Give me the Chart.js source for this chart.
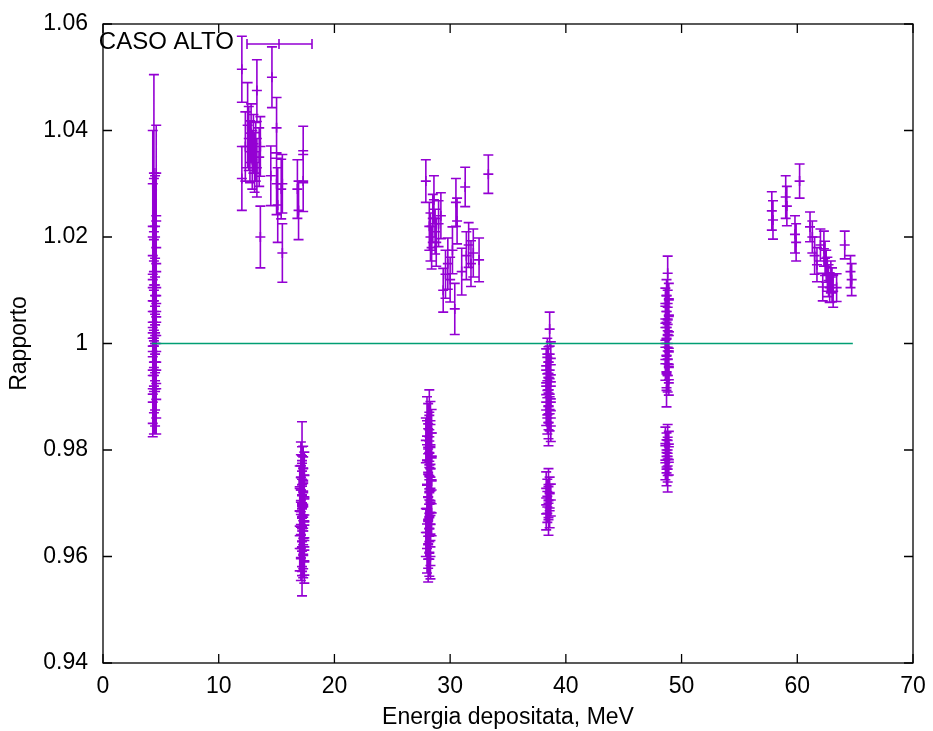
<!DOCTYPE html>
<html>
<head>
<meta charset="utf-8">
<script src="https://cdn.jsdelivr.net/npm/chart.js@4.4.1/dist/chart.umd.min.js"></script>
<style>
  html, body { margin: 0; background: #fff; }
</style>
</head>
<body>
<canvas id="chart" width="933" height="731"></canvas>
<script>
// energy deposited (MeV), ratio and its error, one group per cluster
const aX = [4.4,4.6,4.3,4.5,4.4,4.6,4.3,4.5,4.4,4.6,4.3,4.5,4.4,4.6,4.3,4.5,4.4,4.6,4.3,4.5,4.4,4.6,4.3,4.5,4.4,4.6,4.3,4.5,4.4,4.6,4.3,4.5];
const aY = [1.0320,1.0320,1.0300,1.0220,1.0210,1.0150,1.0120,1.0110,1.0100,1.0090,1.0080,1.0070,1.0060,1.0050,1.0040,1.0035,1.0025,1.0015,1.0010,1.0000,0.9995,0.9985,0.9975,0.9965,0.9955,0.9950,0.9940,0.9930,0.9920,0.9915,0.9905,0.9915];
const aE = [.0185,.0090,.0100,.0095,.0100,.0090,.0100,.0090,.0095,.0090,.0085,.0090,.0095,.0085,.0090,.0090,.0085,.0090,.0095,.0090,.0085,.0090,.0085,.0090,.0085,.0090,.0090,.0085,.0090,.0085,.0080,.0085];

const bX = [12.0,12.0,12.3,12.5,12.6,12.7,12.8,12.9,13.0,13.1,13.2,13.3,13.3,13.5,13.6,13.6,14.5,14.6,15.0,15.0,15.1,15.5,15.4,15.5,16.8,16.9,17.3,17.3];
const bY = [1.0515,1.0310,1.0370,1.0410,1.0385,1.0360,1.0395,1.0345,1.0375,1.0340,1.0360,1.0475,1.0330,1.0350,1.0370,1.0200,1.0315,1.0500,1.0405,1.0300,1.0260,1.0300,1.0290,1.0170,1.0290,1.0250,1.0355,1.0305];
const bE = [.0062,.0060,.0065,.0080,.0060,.0058,.0055,.0055,.0055,.0056,.0055,.0058,.0055,.0055,.0056,.0058,.0056,.0057,.0057,.0058,.0070,.0055,.0056,.0055,.0055,.0055,.0053,.0057];

const cX = [17.2,17.1,17.3,17.2,17.4,17.1,17.3,17.2,17.0,17.3,17.2,17.4,17.1,17.3,17.2,17.0,17.3,17.2,17.4,17.1,17.2,17.3,17.1,17.4,17.2,17.3,17.0,17.2,17.3,17.1,17.4,17.2,17.3,17.1,17.2,17.2,17.4];
const cY = [0.9775,0.9770,0.9765,0.9760,0.9752,0.9748,0.9740,0.9735,0.9728,0.9720,0.9716,0.9710,0.9702,0.9698,0.9690,0.9685,0.9678,0.9672,0.9665,0.9660,0.9652,0.9648,0.9640,0.9635,0.9628,0.9622,0.9615,0.9610,0.9604,0.9598,0.9612,0.9655,0.9695,0.9725,0.9745,0.9572,0.9590];
const cE = [.0078,.0045,.0042,.0046,.0044,.0043,.0047,.0045,.0042,.0046,.0044,.0043,.0047,.0045,.0042,.0046,.0044,.0043,.0047,.0045,.0042,.0046,.0044,.0043,.0047,.0045,.0042,.0046,.0044,.0043,.0047,.0045,.0042,.0046,.0044,.0046,.0040];

const dX = [28.2,28.0,28.3,28.1,28.4,28.2,27.9,28.3,28.1,28.2,28.4,28.0,28.2,28.3,28.1,28.2,28.4,28.0,28.3,28.2,28.1,28.3,28.2,28.0,28.4,28.2,28.1,28.3,28.2,27.9,28.2,28.3,28.1,28.0,28.2,28.3,28.1];
const dY = [0.9865,0.9855,0.9848,0.9840,0.9832,0.9825,0.9818,0.9810,0.9802,0.9795,0.9788,0.9780,0.9772,0.9765,0.9758,0.9750,0.9742,0.9735,0.9728,0.9720,0.9712,0.9705,0.9698,0.9690,0.9682,0.9675,0.9668,0.9660,0.9652,0.9645,0.9638,0.9630,0.9622,0.9615,0.9608,0.9600,0.9595];
const dE = [.0048,.0045,.0043,.0047,.0044,.0046,.0042,.0045,.0047,.0043,.0044,.0046,.0045,.0042,.0047,.0044,.0043,.0046,.0045,.0047,.0042,.0044,.0046,.0045,.0043,.0047,.0044,.0042,.0046,.0045,.0043,.0047,.0044,.0046,.0045,.0042,.0043];

const eX = [27.9,28.2,28.3,28.4,28.5,28.6,28.7,28.8,29.0,29.2,29.4,29.6,29.8,30.0,30.2,30.4,30.5,30.6,31.0,31.3,31.4,31.6,31.8,32.0,32.5,33.3];
const eY = [1.0305,1.0220,1.0200,1.0180,1.0235,1.0270,1.0210,1.0190,1.0225,1.0240,1.0100,1.0130,1.0150,1.0120,1.0175,1.0065,1.0265,1.0230,1.0135,1.0294,1.0165,1.0185,1.0150,1.0170,1.0157,1.0318];
const eE = [.0040,.0045,.0045,.0040,.0045,.0045,.0042,.0045,.0043,.0043,.0041,.0045,.0048,.0042,.0044,.0048,.0045,.0043,.0044,.0037,.0045,.0042,.0043,.0045,.0041,.0036];

const fX = [38.6,38.4,38.7,38.5,38.3,38.6,38.4,38.5,38.7,38.3,38.5,38.6,38.4,38.7,38.5,38.3,38.6,38.4,38.5,38.7,38.5,38.5,38.3,38.6,38.4,38.7,38.5,38.4,38.6,38.3,38.5];
const fY = [1.0027,0.9980,0.9972,0.9965,0.9958,0.9950,0.9943,0.9936,0.9928,0.9920,0.9913,0.9905,0.9898,0.9890,0.9882,0.9875,0.9868,0.9860,0.9852,0.9845,0.9838,0.9735,0.9728,0.9720,0.9713,0.9706,0.9700,0.9693,0.9686,0.9680,0.9673];
const fE = [.0032,.0030,.0031,.0029,.0032,.0030,.0031,.0029,.0032,.0030,.0031,.0029,.0032,.0030,.0031,.0029,.0032,.0030,.0031,.0029,.0030,.0030,.0031,.0029,.0032,.0030,.0031,.0029,.0032,.0030,.0033];

const gX = [48.8,48.7,48.9,48.6,48.8,48.7,48.9,48.8,48.6,48.7,48.9,48.8,48.7,48.6,48.8,48.9,48.7,48.8,48.6,48.9,48.7,48.8,48.9,48.7,48.8,48.6,48.9,48.7,48.8,48.7,48.9,48.6,48.8,48.7,48.8];
const gY = [1.0132,1.0090,1.0082,1.0075,1.0068,1.0060,1.0053,1.0046,1.0038,1.0030,1.0022,1.0015,1.0008,1.0000,0.9993,0.9986,0.9978,0.9970,0.9962,0.9955,0.9947,0.9940,0.9932,0.9912,0.9818,0.9812,0.9806,0.9800,0.9794,0.9788,0.9782,0.9776,0.9770,0.9764,0.9752];
const gE = [.0032,.0030,.0031,.0029,.0032,.0030,.0031,.0029,.0032,.0030,.0031,.0029,.0032,.0030,.0031,.0029,.0032,.0030,.0031,.0029,.0030,.0031,.0029,.0031,.0030,.0031,.0029,.0032,.0030,.0031,.0029,.0032,.0030,.0031,.0031];

const hX = [57.8,57.9,59.0,59.1,60.2,59.8,59.9,61.1,61.5,61.7,62.0,62.3,62.4,62.5,62.6,62.7,62.8,62.9,63.0,63.1,62.2,63.4,64.1,64.6,64.7,61.3];
const hY = [1.0249,1.0232,1.0275,1.0258,1.0305,1.0205,1.0190,1.0219,1.0165,1.0148,1.0185,1.0178,1.0160,1.0145,1.0130,1.0118,1.0105,1.0125,1.0110,1.0098,1.0106,1.0105,1.0185,1.0135,1.0120,1.0200];
const hE = [.0036,.0036,.0040,.0037,.0032,.0035,.0035,.0028,.0035,.0032,.0030,.0033,.0032,.0030,.0032,.0030,.0028,.0030,.0032,.0030,.0026,.0026,.0026,.0030,.0030,.0030];

// reference line at ratio = 1
const fitX = [4.2, 64.8];
const fitY = [1, 1];

const xTicks = [0, 10, 20, 30, 40, 50, 60, 70];
const yTicks = [0.94, 0.96, 0.98, 1.0, 1.02, 1.04, 1.06];
const yTickLabels = ["0.94", "0.96", "0.98", "1", "1.02", "1.04", "1.06"];

const seriesLabel = "CASO ALTO";
const purple = "#9400d3";
const green = "#009e73";
const fontFamily = "'Liberation Sans', Arial, sans-serif";

const groups = [[aX, aY, aE], [bX, bY, bE], [cX, cY, cE], [dX, dY, dE], [eX, eY, eE], [fX, fY, fE], [gX, gY, gE], [hX, hY, hE]];
const points = [];
groups.forEach(([xs, ys, es]) => {
  xs.forEach((x, i) => points.push({ x: x, y: ys[i], err: es[i] }));
});

const errorBars = {
  id: "errorBars",
  beforeDatasetsDraw(chart) {
    const { ctx, chartArea, scales } = chart;
    ctx.save();
    ctx.beginPath();
    ctx.rect(chartArea.left, chartArea.top, chartArea.right - chartArea.left, chartArea.bottom - chartArea.top);
    ctx.clip();
    ctx.strokeStyle = purple;
    ctx.lineWidth = 1.6;
    ctx.beginPath();
    points.forEach((p) => {
      const px = scales.x.getPixelForValue(p.x);
      const top = scales.y.getPixelForValue(p.y + p.err);
      const bot = scales.y.getPixelForValue(p.y - p.err);
      ctx.moveTo(px, top);
      ctx.lineTo(px, bot);
      ctx.moveTo(px - 5, top);
      ctx.lineTo(px + 5, top);
      ctx.moveTo(px - 5, bot);
      ctx.lineTo(px + 5, bot);
    });
    ctx.stroke();
    ctx.restore();
  },
};

// gnuplot-style frame: box with inward ticks on all four sides, plus key
const frame = {
  id: "frame",
  afterDraw(chart) {
    const { ctx, chartArea: a, scales } = chart;
    ctx.save();
    ctx.strokeStyle = "#000";
    ctx.lineWidth = 1.3;
    ctx.strokeRect(a.left, a.top, a.right - a.left, a.bottom - a.top);
    ctx.beginPath();
    const tl = 9;
    xTicks.forEach((v) => {
      const px = scales.x.getPixelForValue(v);
      ctx.moveTo(px, a.bottom);
      ctx.lineTo(px, a.bottom - tl);
      ctx.moveTo(px, a.top);
      ctx.lineTo(px, a.top + tl);
    });
    yTicks.forEach((v) => {
      const py = scales.y.getPixelForValue(v);
      ctx.moveTo(a.left, py);
      ctx.lineTo(a.left + tl, py);
      ctx.moveTo(a.right, py);
      ctx.lineTo(a.right - tl, py);
    });
    ctx.stroke();

    // key
    ctx.fillStyle = "#000";
    ctx.font = "24px " + fontFamily;
    ctx.textAlign = "right";
    ctx.textBaseline = "middle";
    ctx.fillText(seriesLabel, 234, 42);
    ctx.strokeStyle = purple;
    ctx.lineWidth = 1.6;
    ctx.beginPath();
    ctx.moveTo(247, 44);
    ctx.lineTo(312, 44);
    [247, 279, 312].forEach((kx) => {
      ctx.moveTo(kx, 39);
      ctx.lineTo(kx, 49);
    });
    ctx.stroke();
    ctx.restore();
  },
};

new Chart(document.getElementById("chart"), {
  type: "scatter",
  data: {
    datasets: [
      {
        type: "line",
        data: fitX.map((x, i) => ({ x: x, y: fitY[i] })),
        borderColor: green,
        borderWidth: 1.5,
        pointRadius: 0,
        fill: false,
      },
      {
        data: points,
        pointStyle: "cross",
        radius: 5,
        borderColor: purple,
        backgroundColor: purple,
        borderWidth: 1.6,
      },
    ],
  },
  options: {
    responsive: false,
    devicePixelRatio: 1,
    animation: false,
    layout: { padding: { left: 0, right: 20, top: 24, bottom: 0 } },
    scales: {
      x: {
        type: "linear",
        min: 0,
        max: 70,
        afterBuildTicks(s) { s.ticks = xTicks.map((v) => ({ value: v })); },
        afterFit(s) { s.height = 68; s.paddingLeft = 0; s.paddingRight = 0; },
        ticks: { color: "#000", font: { family: fontFamily, size: 23 }, padding: 10, maxRotation: 0 },
        grid: { display: false, drawTicks: false },
        border: { display: false },
        title: { display: true, text: "Energia depositata, MeV", color: "#000", font: { family: fontFamily, size: 23 }, padding: 0 },
      },
      y: {
        type: "linear",
        min: 0.94,
        max: 1.06,
        afterBuildTicks(s) { s.ticks = yTicks.map((v) => ({ value: v })); },
        afterFit(s) { s.width = 103; s.paddingTop = 0; s.paddingBottom = 0; },
        ticks: {
          color: "#000",
          font: { family: fontFamily, size: 23 },
          padding: 15,
          callback: (v, i) => yTickLabels[i],
        },
        grid: { display: false, drawTicks: false },
        border: { display: false },
        title: { display: true, text: "Rapporto", color: "#000", font: { family: fontFamily, size: 23 }, padding: { top: 6, bottom: 0 } },
      },
    },
    plugins: {
      legend: { display: false },
      tooltip: { enabled: false },
    },
  },
  plugins: [errorBars, frame],
});
</script>
</body>
</html>
